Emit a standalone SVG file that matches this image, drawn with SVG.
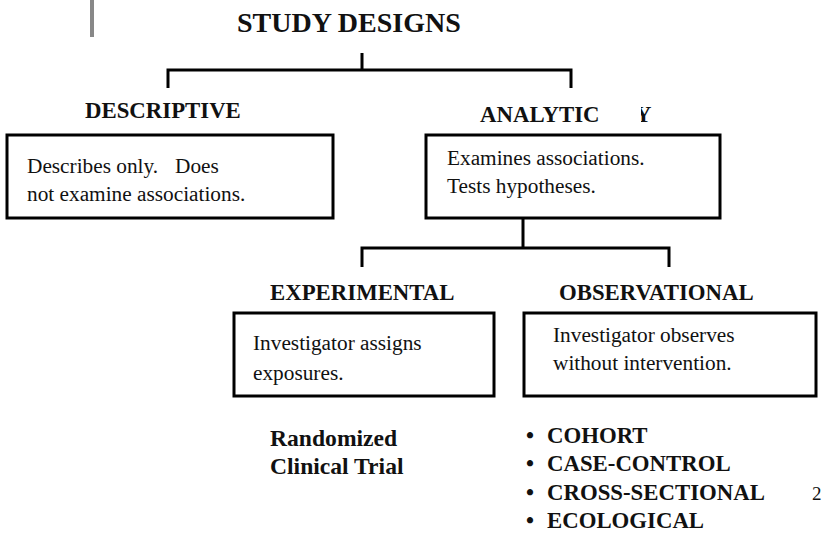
<svg xmlns="http://www.w3.org/2000/svg" width="824" height="536" viewBox="0 0 824 536">
<style>
.hd{font-family:"Liberation Serif","Times New Roman",serif;font-weight:bold;font-size:22.8px;fill:#111}
.tx{font-family:"Liberation Serif","Times New Roman",serif;font-size:21.3px;fill:#111}
.box{fill:#fff;stroke:#000;stroke-width:3}
.con{fill:none;stroke:#000;stroke-width:3}
</style>
<rect width="824" height="536" fill="#fff"/>
<rect x="90" y="0" width="4" height="37" fill="#888"/>
<g id="title"><text x="237" y="32" class="hd" style="font-size:28px">STUDY DESIGNS</text></g>
<g id="connectors">
<path class="con" d="M362,53 V70 M168,88 V70 H571 V88"/>
<path class="con" d="M523,218 V248 M362,267 V248 H669 V267"/>
</g>
<g id="descriptive">
<text x="85" y="118" class="hd">DESCRIPTIVE</text>
<rect x="7" y="135" width="326" height="83" class="box"/>
<text x="27" y="173" class="tx">Describes only.<tspan x="175">Does</tspan></text>
<text x="27" y="201" class="tx">not examine associations.</text>
</g>
<g id="analytic">
<text x="480" y="122" class="hd">ANALYTIC</text>
<text x="635" y="122" class="hd">Y</text>
<rect x="628" y="100" width="13" height="28" fill="#fff"/>
<rect x="426" y="135" width="294" height="83" class="box"/>
<text x="447" y="165" class="tx">Examines associations.</text>
<text x="447" y="193" class="tx">Tests hypotheses.</text>
</g>
<g id="experimental">
<text x="270" y="300" class="hd">EXPERIMENTAL</text>
<rect x="234" y="313" width="260" height="83" class="box"/>
<text x="253" y="350" class="tx">Investigator assigns</text>
<text x="253" y="380" class="tx">exposures.</text>
</g>
<g id="observational">
<text x="559" y="300" class="hd">OBSERVATIONAL</text>
<rect x="524" y="313" width="292" height="83" class="box"/>
<text x="553" y="342" class="tx">Investigator observes</text>
<text x="553" y="370" class="tx">without intervention.</text>
</g>
<g id="rct">
<text x="270" y="446" class="hd" style="font-size:23.6px">Randomized</text>
<text x="270" y="474" class="hd" style="font-size:23.6px">Clinical Trial</text>
</g>
<g id="types">
<text x="526" y="443" class="hd">•</text><text x="547" y="443" class="hd">COHORT</text>
<text x="526" y="471" class="hd">•</text><text x="547" y="471" class="hd">CASE-CONTROL</text>
<text x="526" y="500" class="hd">•</text><text x="547" y="500" class="hd">CROSS-SECTIONAL</text>
<text x="526" y="528" class="hd">•</text><text x="547" y="528" class="hd">ECOLOGICAL</text>
</g>
<g id="page"><text x="812" y="500" class="tx" style="font-size:19px">2</text></g>
</svg>
